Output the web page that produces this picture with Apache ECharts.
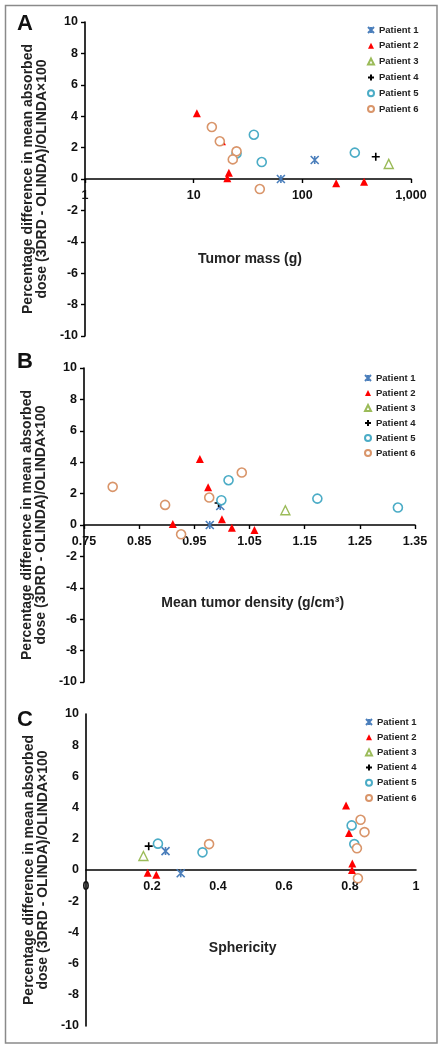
<!DOCTYPE html>
<html>
<head>
<meta charset="utf-8">
<script src="https://cdn.jsdelivr.net/npm/echarts@6/dist/echarts.min.js"></script>
<style>
html,body{margin:0;padding:0;background:#fff;}
#chart{width:444px;height:1050px;}
</style>
</head>
<body>
<div id="chart"></div>
<script>
// ---- data (x, percentage difference) ----
const patients = ['Patient 1','Patient 2','Patient 3','Patient 4','Patient 5','Patient 6'];

// Panel A: tumor mass (g)
const massP1 = [[130,1.21],[63.5,0]];
const massP2 = [[10.7,4.18],[18.2,2.4],[21.1,0.4],[20.4,0.05],[205,-0.27],[370,-0.17]];
const massP3 = [[624,0.96]];
const massP4 = [[474,1.42]];
const massP5 = [[35.8,2.82],[24.8,1.63],[42.3,1.08],[304,1.68]];
const massP6 = [[14.7,3.31],[17.4,2.4],[24.8,1.76],[22.9,1.25],[40.6,-0.64]];

// Panel B: mean tumor density (g/cm3)
const densP1 = [[0.978,0],[0.997,1.21]];
const densP2 = [[0.960,4.21],[0.975,2.41],[0.911,0.06],[1.0,0.36],[1.018,-0.17],[1.059,-0.32]];
const densP3 = [[1.115,0.94]];
const densP4 = [[0.994,1.4]];
const densP5 = [[0.999,1.58],[1.012,2.85],[1.173,1.68],[1.319,1.11]];
const densP6 = [[0.802,2.43],[0.897,1.28],[0.926,-0.59],[0.977,1.75],[1.036,3.34]];

// Panel C: sphericity
const sphP1 = [[0.241,1.21],[0.287,-0.21]];
const sphP2 = [[0.187,-0.17],[0.213,-0.3],[0.788,4.14],[0.797,2.37],[0.807,0.41],[0.806,0]];
const sphP3 = [[0.174,0.9]];
const sphP4 = [[0.19,1.53]];
const sphP5 = [[0.218,1.69],[0.353,1.13],[0.805,2.86],[0.813,1.66]];
const sphP6 = [[0.373,1.66],[0.832,3.22],[0.844,2.43],[0.821,1.39],[0.824,-0.53]];

const xNames = ['Tumor mass (g)','Mean tumor density (g/cm\u00b3)','Sphericity'];
const panelLetters = ['A','B','C'];
const yName = 'Percentage difference in mean absorbed\ndose (3DRD - OLINDA)/OLINDA\u00d7100';

// ---- styles ----
const FONT = '"Liberation Sans", Arial, sans-serif';
const styles = [
  {symbol:'path://M0,0L10,10M10,0L0,10M5,0L5,10', size:8, color:'transparent', border:'#4A7EBB', bw:1.6},
  {symbol:'triangle', size:8, color:'#FF0000', border:'#FF0000', bw:0},
  {symbol:'triangle', size:9, color:'#ffffff', border:'#9BBB59', bw:1.4},
  {symbol:'path://M5,0L5,10M0,5L10,5', size:8, color:'transparent', border:'#000000', bw:1.6},
  {symbol:'circle', size:9, color:'#ffffff', border:'#4BACC6', bw:1.6},
  {symbol:'circle', size:9, color:'#ffffff', border:'#D9956A', bw:1.6}
];
const panelData = [
  [massP1,massP2,massP3,massP4,massP5,massP6],
  [densP1,densP2,densP3,densP4,densP5,densP6],
  [sphP1,sphP2,sphP3,sphP4,sphP5,sphP6]
];
const grids = [
  {left:85, top:22, width:326, height:314},
  {left:84, top:368, width:331, height:314},
  {left:86, top:714, width:330, height:312}
];
const legendPos = [
  {left:367, top:24, gap:3.8},
  {left:364, top:372, gap:3.0},
  {left:365, top:716, gap:3.2}
];
const xNamePos = [[250,259],[252.7,603],[242.7,948]];
const letterPos = [[25,24],[25,362],[25,720]];

const xAxes = [
  {type:'log', logBase:10, min:1, max:1000,
   formatter:v=>v>=1000?v.toLocaleString('en-US'):String(v), ticks:true},
  {type:'value', min:0.75, max:1.35, interval:0.1,
   formatter:v=>v.toFixed(2), ticks:true},
  {type:'value', min:0, max:1, interval:0.2,
   formatter:v=>String(+v.toFixed(1)), ticks:false}
];

const option = {
  animation:false,
  backgroundColor:'#ffffff',
  grid: grids.map(g=>Object.assign({containLabel:false}, g)),
  xAxis: xAxes.map((a,i)=>({
    type:a.type, logBase:a.logBase, min:a.min, max:a.max, interval:a.interval,
    gridIndex:i, position:'bottom',
    offset: -grids[i].height/2,
    axisLine:{show:true, onZero:false, lineStyle:{color:'#000', width:1.6}},
    axisTick:{show:a.ticks, inside:false, length:4, lineStyle:{color:'#000', width:1.4}},
    minorTick:{show:false},
    splitLine:{show:false},
    axisLabel:{formatter:a.formatter, fontFamily:FONT, fontWeight:'bold', fontSize:12.5, color:'#111', margin:10, showMinLabel:true, showMaxLabel:true, hideOverlap:false}
  })),
  yAxis: [0,1,2].map(i=>({
    type:'value', min:-10, max:10, interval:2, gridIndex:i,
    axisLine:{show:true, onZero:false, lineStyle:{color:'#000', width:1.6}},
    axisTick:{show:i<2, inside:false, length:4, lineStyle:{color:'#000', width:1.4}},
    splitLine:{show:false},
    axisLabel:{fontFamily:FONT, fontWeight:'bold', fontSize:12.5, color:'#111', margin:7},
    name:yName, nameLocation:'middle', nameRotate:90, nameGap:31,
    nameTextStyle:{fontFamily:FONT, fontWeight:'bold', fontSize:14, lineHeight:14, color:'#222', align:'center'}
  })),
  legend: legendPos.map(l=>({
    orient:'vertical', left:l.left, top:l.top, itemGap:l.gap,
    itemWidth:6, itemHeight:6, padding:0, selectedMode:false,
    data:patients,
    textStyle:{fontFamily:FONT, fontWeight:'bold', fontSize:9.5, lineHeight:12, color:'#222'}
  })),
  series: [],
  graphic: []
};

panelData.forEach((pd,pi)=>{
  pd.forEach((arr,si)=>{
    const s = styles[si];
    option.series.push({
      type:'scatter', name:patients[si], xAxisIndex:pi, yAxisIndex:pi,
      data:arr, symbol:s.symbol, symbolSize:s.size,
      itemStyle:{color:s.color, borderColor:s.border, borderWidth:s.bw, opacity:1},
      emphasis:{disabled:true}, z:3+si
    });
  });
});

xNames.forEach((t,i)=>{
  option.graphic.push({type:'text', x:xNamePos[i][0], y:xNamePos[i][1],
    style:{text:t, font:'bold 14px '+FONT, fill:'#222', textAlign:'center', textVerticalAlign:'middle'}});
});
panelLetters.forEach((t,i)=>{
  option.graphic.push({type:'text', x:letterPos[i][0], y:letterPos[i][1],
    style:{text:t, font:'bold 22px '+FONT, fill:'#111', textAlign:'center', textVerticalAlign:'middle'}});
});
option.graphic.push({type:'rect', shape:{x:5.5, y:5.5, width:431.5, height:1037.5},
  style:{fill:'none', stroke:'#8a8a8a', lineWidth:1.5}, z:-1});

const chart = echarts.init(document.getElementById('chart'), null, {renderer:'canvas'});
chart.setOption(option);
</script>
</body>
</html>
